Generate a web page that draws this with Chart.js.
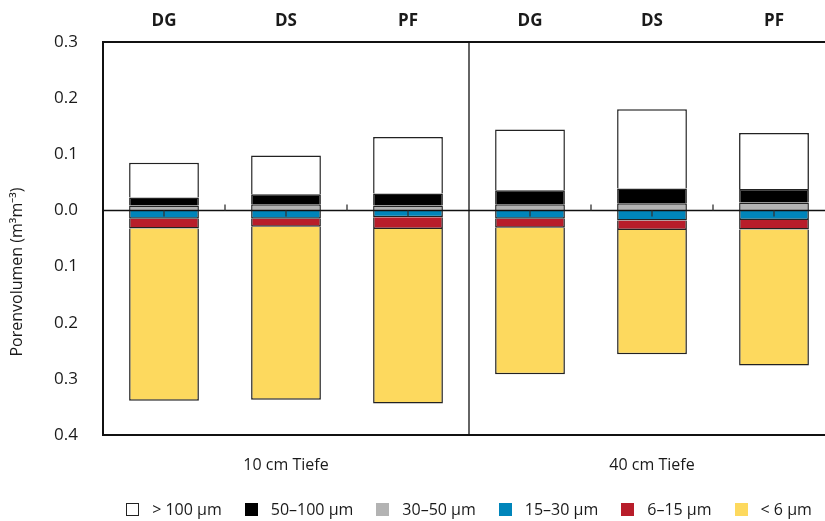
<!DOCTYPE html>
<html>
<head>
<meta charset="utf-8">
<script src="https://cdn.jsdelivr.net/npm/chart.js@4/dist/chart.umd.min.js"></script>
<style>
  body { margin: 0; background: #fff; overflow: hidden; }
  #wrap { position: relative; width: 825px; height: 521px; overflow: hidden; }
  #grafico { position: absolute; left: 0; top: 0; }
  #legende { position: absolute; left: 0; top: 498px; width: 938px; display: flex; justify-content: center; font: 16px "Open Sans", sans-serif; color: #1a1a1a; }
  .item { display: flex; align-items: center; margin: 0 11.5px; white-space: nowrap; }
  .box { width: 13px; height: 13px; margin-right: 13px; box-sizing: border-box; border: 1px solid #222; }
</style>
</head>
<body>
<div id="wrap">
  <canvas id="grafico" width="835" height="521"></canvas>
  <div id="legende"></div>
</div>
<script>
// Kategorien (Variante je Tiefe)
const varianten = ["DG", "DS", "PF", "DG", "DS", "PF"];
const tiefen = ["", "10 cm Tiefe", "", "", "40 cm Tiefe", ""];

// Porenvolumen (m3/m3), oberhalb der Nulllinie
const poren30_50 = [0.009, 0.011, 0.009, 0.011, 0.013, 0.014];
const poren50_100 = [0.014, 0.018, 0.021, 0.025, 0.026, 0.024];
const poren100 = [0.062, 0.069, 0.101, 0.108, 0.141, 0.100];
// unterhalb der Nulllinie (negativ dargestellt)
const poren15_30 = [-0.015, -0.015, -0.012, -0.015, -0.018, -0.017];
const poren6_15 = [-0.017, -0.014, -0.021, -0.016, -0.017, -0.017];
const poren6 = [-0.307, -0.308, -0.311, -0.261, -0.221, -0.242];

const yTicks = [-0.4, -0.3, -0.2, -0.1, 0, 0.1, 0.2, 0.3];

const schrift = '"Open Sans", sans-serif';
const textFarbe = "#1a1a1a";
const randFarbe = "#222";

// Reihenfolge der Stapel: von der Nulllinie nach außen
const reihen = [
  { label: "30–50 µm", data: poren30_50, color: "#b3b3b3" },
  { label: "50–100 µm", data: poren50_100, color: "#000000" },
  { label: "> 100 µm", data: poren100, color: "#ffffff" },
  { label: "15–30 µm", data: poren15_30, color: "#0085ba" },
  { label: "6–15 µm", data: poren6_15, color: "#b81d2a" },
  { label: "< 6 µm", data: poren6, color: "#fdd95e" },
];
const legendeReihenfolge = ["> 100 µm", "50–100 µm", "30–50 µm", "15–30 µm", "6–15 µm", "< 6 µm"];

// Rahmen, Trennlinie und Nulllinie mit Strichen
const rahmen = {
  id: "rahmen",
  afterDatasetsDraw(chart) {
    const { ctx, chartArea: a, scales } = chart;
    const x = scales.x;
    const y0 = scales.y.getPixelForValue(0);
    ctx.save();
    ctx.strokeStyle = "#111";
    ctx.lineWidth = 2;
    ctx.strokeRect(a.left, a.top, a.width, a.height);

    const mitte = (x.getPixelForValue(2) + x.getPixelForValue(3)) / 2;
    ctx.lineWidth = 1.3;
    ctx.beginPath();
    ctx.moveTo(mitte, a.top);
    ctx.lineTo(mitte, a.bottom);
    ctx.stroke();

    ctx.lineWidth = 1.5;
    ctx.beginPath();
    ctx.moveTo(a.left, y0);
    ctx.lineTo(a.right, y0);
    ctx.stroke();

    ctx.lineWidth = 1.3;
    ctx.strokeStyle = "#333";
    ctx.beginPath();
    for (let i = 0; i < varianten.length; i++) {
      const c = x.getPixelForValue(i);
      ctx.moveTo(c, y0);
      ctx.lineTo(c, y0 + 6);
      if (i > 0 && i !== 3) {
        const b = (x.getPixelForValue(i - 1) + c) / 2;
        ctx.moveTo(b, y0);
        ctx.lineTo(b, y0 - 6);
      }
    }
    ctx.stroke();
    ctx.restore();
  },
  afterDraw(chart) {
    const { ctx } = chart;
    ctx.save();
    ctx.translate(17, 272);
    ctx.rotate(-Math.PI / 2);
    ctx.fillStyle = textFarbe;
    ctx.font = "16px " + schrift;
    ctx.textAlign = "center";
    ctx.textBaseline = "middle";
    ctx.fillText("Porenvolumen (m³m⁻³)", 0, 0);
    ctx.restore();
  },
};

const config = {
  type: "bar",
  data: {
    labels: varianten,
    datasets: reihen.map((r) => ({
      label: r.label,
      data: r.data,
      backgroundColor: r.color,
      borderColor: randFarbe,
      borderWidth: 1.5,
      borderSkipped: "start",
      barPercentage: 0.572,
      categoryPercentage: 1,
    })),
  },
  options: {
    responsive: false,
    animation: false,
    layout: { padding: 0 },
    plugins: { legend: { display: false }, tooltip: { enabled: false } },
    scales: {
      x: {
        type: "category",
        position: "bottom",
        labels: tiefen,
        offset: true,
        stacked: true,
        grid: { display: false, drawTicks: false },
        border: { display: false },
        ticks: { font: { family: schrift, size: 16 }, color: textFarbe, padding: 21, maxRotation: 0, autoSkip: false },
        afterFit(s) { s.height = 86; },
      },
      xTop: {
        type: "category",
        position: "top",
        labels: varianten,
        offset: true,
        grid: { display: false, drawTicks: false },
        border: { display: false },
        ticks: { font: { family: schrift, size: 17, weight: "bold" }, color: textFarbe, padding: 11, maxRotation: 0, autoSkip: false },
        afterFit(s) { s.height = 42; },
      },
      y: {
        stacked: true,
        min: -0.4,
        max: 0.3,
        grid: { display: false, drawTicks: false },
        border: { display: false },
        afterBuildTicks(s) { s.ticks = yTicks.map((v) => ({ value: v })); },
        ticks: {
          font: { family: schrift, size: 17 },
          color: textFarbe,
          padding: 25,
          callback: (v) => Math.abs(v).toFixed(1),
        },
        afterFit(s) { s.width = 103; },
      },
    },
  },
  plugins: [rahmen],
};

const myChart = new Chart(document.getElementById("grafico"), config);

// Legende in der Reihenfolge des Originals
const legende = document.getElementById("legende");
legendeReihenfolge.forEach((name) => {
  const r = reihen.find((d) => d.label === name);
  const item = document.createElement("div");
  item.className = "item";
  const box = document.createElement("span");
  box.className = "box";
  box.style.background = r.color;
  if (r.color !== "#ffffff") box.style.borderColor = r.color;
  const txt = document.createElement("span");
  txt.textContent = name;
  item.appendChild(box);
  item.appendChild(txt);
  legende.appendChild(item);
});
</script>
</body>
</html>
